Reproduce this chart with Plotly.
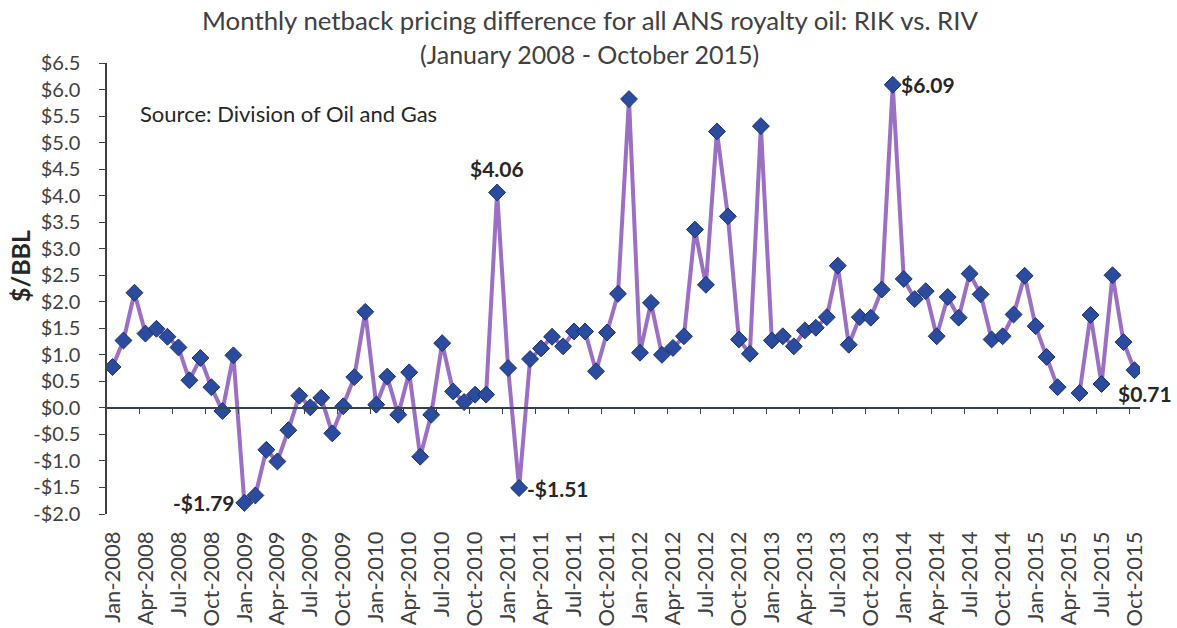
import plotly.graph_objects as go

# ---- data ----
month_names = ["Jan", "Feb", "Mar", "Apr", "May", "Jun", "Jul", "Aug", "Sep", "Oct", "Nov", "Dec"]
years = [2008, 2009, 2010, 2011, 2012, 2013, 2014, 2015]

v2008 = [0.77, 1.27, 2.17, 1.40, 1.49, 1.34, 1.14, 0.52, 0.94, 0.39, -0.06, 0.99]
v2009 = [-1.79, -1.65, -0.79, -1.01, -0.42, 0.23, 0.01, 0.19, -0.48, 0.03, 0.58, 1.81]
v2010 = [0.06, 0.59, -0.13, 0.67, -0.92, -0.13, 1.22, 0.31, 0.11, 0.25, 0.25, 4.06]
v2011 = [0.75, -1.51, 0.92, 1.12, 1.34, 1.16, 1.44, 1.44, 0.69, 1.42, 2.15, 5.82]
v2012 = [1.04, 1.98, 1.00, 1.13, 1.35, 3.36, 2.32, 5.21, 3.61, 1.29, 1.02, 5.31]
v2013 = [1.27, 1.35, 1.16, 1.46, 1.51, 1.71, 2.68, 1.19, 1.71, 1.70, 2.23, 6.09]
v2014 = [2.43, 2.05, 2.20, 1.35, 2.09, 1.70, 2.53, 2.14, 1.29, 1.35, 1.76, 2.49]
v2015 = [1.54, 0.96, 0.39, None, 0.28, 1.75, 0.45, 2.50, 1.24, 0.71]

values = v2008 + v2009 + v2010 + v2011 + v2012 + v2013 + v2014 + v2015
months = [f"{m}-{y}" for y in years for m in month_names][:len(values)]
idx = list(range(len(values)))

# labelled points: (month, text, side)
labels = [("Jan-2009", "-$1.79", "left"),
          ("Dec-2010", "$4.06", "top"),
          ("Feb-2011", "-$1.51", "right"),
          ("Dec-2013", "$6.09", "right"),
          ("Oct-2015", "$0.71", "below-right")]

title_lines = ["Monthly netback pricing difference for all ANS royalty oil: RIK vs. RIV",
               "(January 2008 - October 2015)"]

y_ticks = [-2.0 + 0.5 * i for i in range(18)]
y_ticktext = [("-$" if t < 0 else "$") + f"{abs(t):.1f}" for t in y_ticks]

y_min, y_max = -2.0, 6.5
x_min, x_max = -0.5, len(values) - 0.5

FONT = "Lato"
TXT = "#404040"
DARK = "#262626"

W, H = 1177, 628
ML, MR, MT, MB = 107, 37, 63, 114
PH = H - MT - MB
PW = W - ML - MR

fig = go.Figure()

fig.add_trace(go.Scatter(
    x=idx, y=values, mode="lines+markers",
    line=dict(color="#9A6FC4", width=4),
    marker=dict(symbol="diamond", size=13, color="#2B4C9E",
                line=dict(color="#1A2F6B", width=1)),
    connectgaps=False, showlegend=False, hoverinfo="x+y",
))

# invisible trace on the overlay axis that draws the zero-crossing category axis
fig.add_trace(go.Scatter(
    x=[x_min, x_max], y=[0, 0], xaxis="x2", yaxis="y",
    mode="lines", line=dict(width=0), opacity=0,
    showlegend=False, hoverinfo="skip",
))

label_tick_idx = idx[::3]
fig.update_layout(
    width=W, height=H,
    paper_bgcolor="white", plot_bgcolor="white",
    margin=dict(l=ML, r=MR, t=MT, b=MB),
    font=dict(family=FONT, color=TXT),
    xaxis=dict(
        range=[x_min, x_max], automargin=False,
        tickmode="array", tickvals=label_tick_idx,
        ticktext=[months[i] for i in label_tick_idx],
        tickangle=-90, ticks="", showline=False, showgrid=False, zeroline=False,
        tickfont=dict(family=FONT, size=22, color=TXT),
        ticklabelstandoff=12,
    ),
    xaxis2=dict(
        overlaying="x", anchor="free", automargin=False,
        position=(0 - y_min) / (y_max - y_min),
        range=[x_min, x_max],
        tickmode="array", tickvals=[i + 2.5 for i in idx[::3] if i + 2.5 < x_max],
        ticks="outside", ticklen=5, tickwidth=1.2, tickcolor="#34414F",
        showticklabels=False, showline=True, linecolor="#34414F", linewidth=1.5,
        showgrid=False, zeroline=False,
    ),
    yaxis=dict(
        range=[y_min, y_max], automargin=False,
        tickmode="array", tickvals=y_ticks, ticktext=y_ticktext,
        ticks="outside", ticklen=6, tickwidth=1.2, tickcolor="#404040",
        showline=True, linecolor="#404040", linewidth=1.5,
        showgrid=False, zeroline=False,
        tickfont=dict(family=FONT, size=20, color=TXT),
        ticklabelstandoff=15,
    ),
)

# title lines
for text, ypx, fs in zip(title_lines, [20, 54], [25.8, 25]):
    fig.add_annotation(
        text=text, xref="paper", yref="paper",
        x=(W / 2 + 1 - ML) / PW, y=1 + (MT - ypx) / PH,
        xanchor="center", yanchor="middle", showarrow=False,
        font=dict(family=FONT, size=fs, color=TXT),
    )

# y-axis title
fig.add_annotation(
    text="<b>$/BBL</b>", xref="paper", yref="paper",
    x=(20 - ML) / PW, y=1 - (266 - MT) / PH, textangle=-90,
    xanchor="center", yanchor="middle", showarrow=False,
    font=dict(family=FONT, size=25, color=DARK),
)

fig.add_annotation(
    text="Source: Division of Oil and Gas", xref="paper", yref="paper",
    x=(138 - ML) / PW, y=1 - (113 - MT) / PH, xanchor="left", yanchor="middle",
    showarrow=False, font=dict(family=FONT, size=22, color=DARK),
)

for m, txt, side in labels:
    i = months.index(m)
    v = values[i]
    kw = dict(x=i, y=v, text=f"<b>{txt}</b>", showarrow=False,
              font=dict(family=FONT, size=21, color=DARK))
    if side == "left":
        kw.update(xanchor="right", yanchor="middle", xshift=-7)
    elif side == "right":
        kw.update(xanchor="left", yanchor="middle", xshift=6)
    elif side == "top":
        kw.update(xanchor="center", yanchor="bottom", yshift=9)
    else:
        kw.update(xanchor="left", yanchor="top", xshift=-19, yshift=-9)
    fig.add_annotation(**kw)

fig.write_html(
    "out.html",
    config={"displayModeBar": False},
    post_script="document.body.style.margin='0';document.body.style.overflow='hidden';",
)
